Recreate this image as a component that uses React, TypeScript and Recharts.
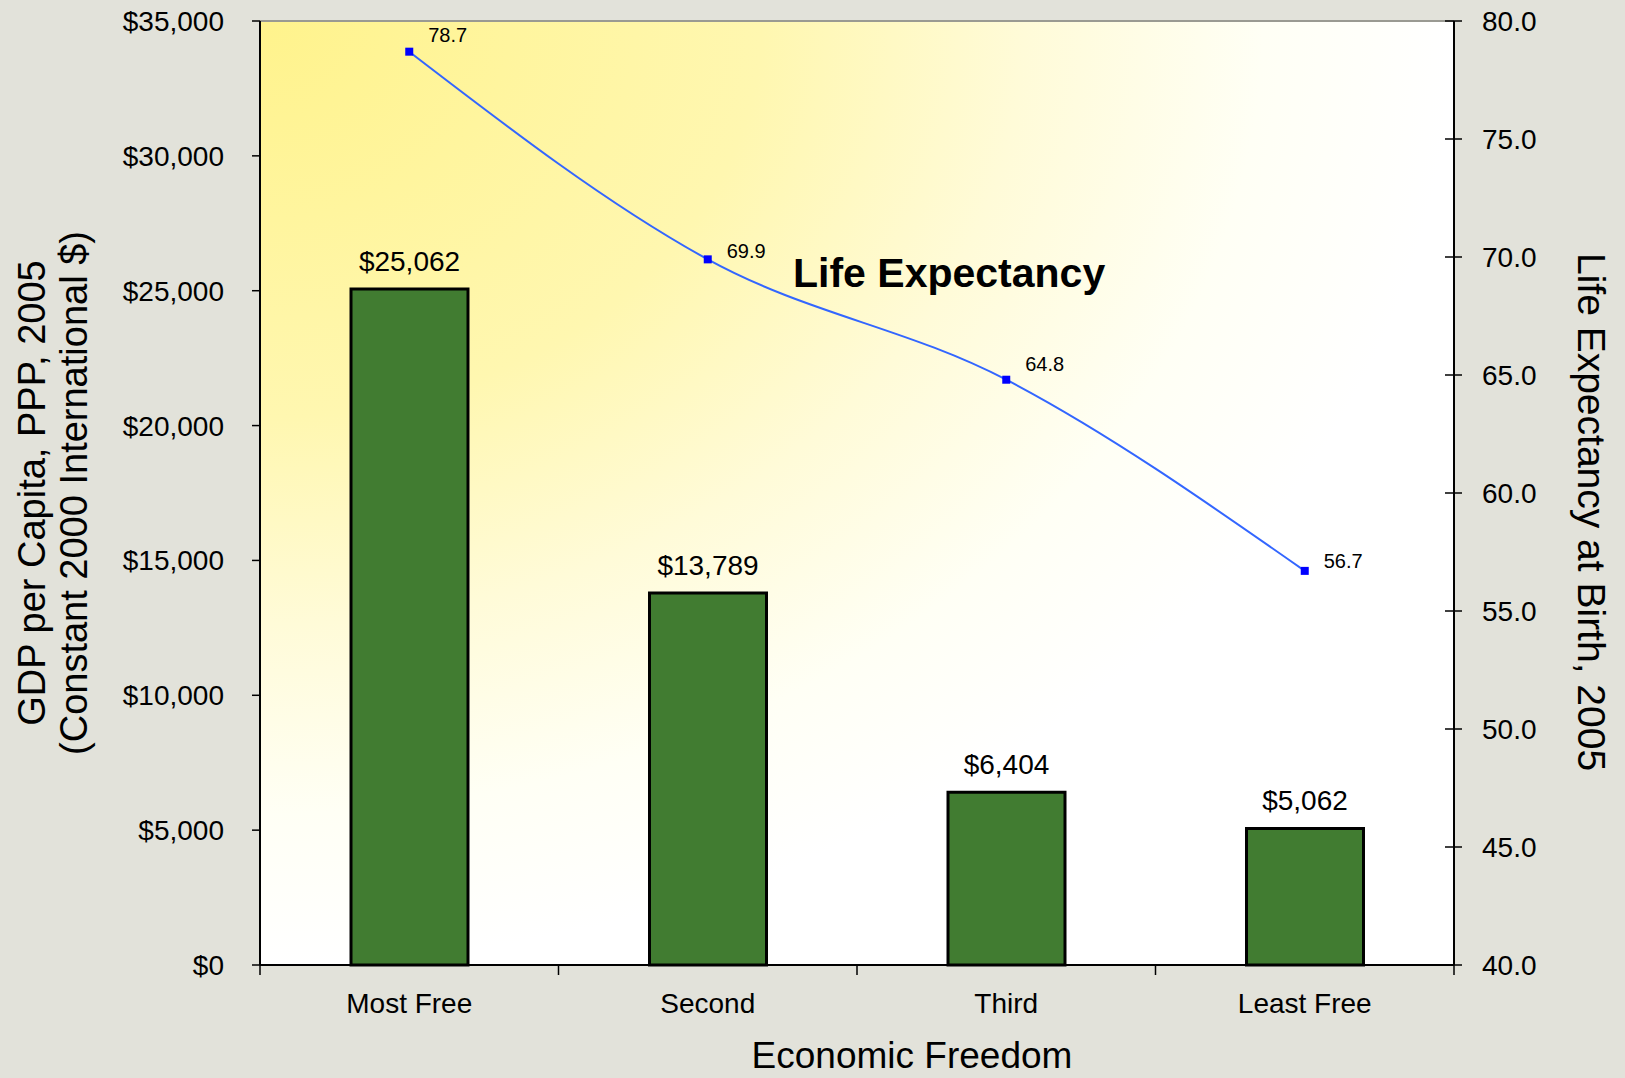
import React from 'react';
import { ComposedChart, Bar, Line, XAxis, YAxis, CartesianGrid, LabelList, ReferenceLine, Label } from 'recharts';

// economic freedom quartiles
const CATEGORIES = ['Most Free', 'Second', 'Third', 'Least Free'];
const GDP_PER_CAPITA = [25062, 13789, 6404, 5062];
const LIFE_EXPECTANCY = [78.7, 69.9, 64.8, 56.7];
const GDP_TICKS = [0, 5000, 10000, 15000, 20000, 25000, 30000, 35000];
const LIFE_TICKS = [40, 45, 50, 55, 60, 65, 70, 75, 80];

// vertical nudge of each point label (Excel placed them a bit unevenly)
const POINT_LABEL_DY = [-10, -1, -9, -3];

const data = CATEGORIES.map((name, i) => ({
    name,
    gdp: GDP_PER_CAPITA[i],
    life: LIFE_EXPECTANCY[i],
}));

const FONT = '"Liberation Sans", Arial, Helvetica, sans-serif';
const W = 1625;
const H = 1078;

const dollars = (v: number) => '$' + v.toLocaleString('en-US');

const CategoryTick = (props: any) => {
    const { x, y, payload, index, width } = props;
    const step = (Number(width) || 1194) / CATEGORIES.length;
    const axisY = y - 28;
    return (
        <g>
            <line x1={x - step / 2} y1={axisY} x2={x - step / 2} y2={axisY + 10} stroke="#000" strokeWidth={1.5} />
            {index === CATEGORIES.length - 1 && (
                <line x1={x + step / 2} y1={axisY} x2={x + step / 2} y2={axisY + 10} stroke="#000" strokeWidth={1.5} />
            )}
            <text x={x} y={y} dy="0.71em" textAnchor="middle" fontSize={28} fill="#000" fontFamily={FONT}>
                {payload.value}
            </text>
        </g>
    );
};

const RightTick = (props: any) => {
    const { x, y, payload } = props;
    const axisX = x - 28;
    return (
        <g>
            <line x1={axisX - 9} y1={y} x2={axisX + 8} y2={y} stroke="#000" strokeWidth={1.5} />
            <text x={x} y={y} dy="0.355em" textAnchor="start" fontSize={28} fill="#000" fontFamily={FONT}>
                {Number(payload.value).toFixed(1)}
            </text>
        </g>
    );
};

const BarValueLabel = (props: any) => {
    const x = Number(props.x), y = Number(props.y), w = Number(props.width);
    return (
        <text x={x + w / 2} y={y - 18} textAnchor="middle" fontSize={28} fill="#000" fontFamily={FONT}>
            {dollars(Number(props.value))}
        </text>
    );
};

const PointLabel = (props: any) => {
    const x = Number(props.x), y = Number(props.y);
    const dy = POINT_LABEL_DY[props.index] ?? -9;
    return (
        <text x={x + 19} y={y + dy} textAnchor="start" fontSize={20} fill="#000" fontFamily={FONT}>
            {Number(props.value).toFixed(1)}
        </text>
    );
};

const SquareDot = (props: any) => {
    const { cx, cy, index } = props;
    return <rect key={`dot-${index}`} x={cx - 4} y={cy - 4} width={8} height={8} fill="#0000FF" />;
};

const LeftAxisTitle = ({ viewBox }: any) => {
    const cy = viewBox.y + viewBox.height / 2;
    return (
        <text transform={`translate(52, ${cy}) rotate(-90)`} textAnchor="middle" fontSize={38} fill="#000" fontFamily={FONT}>
            <tspan x={0} y={-7}>GDP per Capita, PPP, 2005</tspan>
            <tspan x={0} y={35}>(Constant 2000 International $)</tspan>
        </text>
    );
};

const RightAxisTitle = () => (
    <text transform="translate(1592, 512) rotate(90)" x={0} y={14} textAnchor="middle" fontSize={39} fill="#000" fontFamily={FONT}>
        Life Expectancy at Birth, 2005
    </text>
);

const XAxisTitle = () => (
    <text x={912} y={1068} textAnchor="middle" fontSize={37} fill="#000" fontFamily={FONT}>
        Economic Freedom
    </text>
);

export default function App() {
    return (
        <div
            style={{
                position: 'absolute',
                left: 0,
                top: 0,
                width: W,
                height: H,
                overflow: 'hidden',
                background: '#E2E2DA',
                fontFamily: FONT,
            }}
        >
            <ComposedChart
                width={W}
                height={H}
                data={data}
                margin={{ top: 21, right: 71, bottom: 53, left: 110 }}
            >
                <defs>
                    <radialGradient id="plotBg" cx="0" cy="0" r="1" fx="0" fy="0">
                        <stop offset="0%" stopColor="#FFF38C" />
                        <stop offset="42%" stopColor="#FFF7B0" />
                        <stop offset="64%" stopColor="#FFFBD8" />
                        <stop offset="84%" stopColor="#FFFFF5" />
                        <stop offset="100%" stopColor="#FFFFFF" />
                    </radialGradient>
                </defs>
                <CartesianGrid yAxisId="left" horizontal={false} vertical={false} fill="url(#plotBg)" stroke="none" />
                <XAxis
                    dataKey="name"
                    height={60}
                    axisLine={{ stroke: '#000', strokeWidth: 2 }}
                    tickLine={false}
                    tickSize={0}
                    tickMargin={28}
                    tick={CategoryTick}
                    interval={0}
                >
                    <Label content={XAxisTitle} />
                </XAxis>
                <YAxis
                    yAxisId="left"
                    width={150}
                    domain={[0, 35000]}
                    ticks={GDP_TICKS}
                    tickFormatter={dollars}
                    axisLine={{ stroke: '#000', strokeWidth: 2 }}
                    tickLine={{ stroke: '#000', strokeWidth: 1.5 }}
                    tickSize={8}
                    tickMargin={28}
                    tick={{ fill: '#000', fontSize: 28, fontFamily: FONT }}
                >
                    <Label content={LeftAxisTitle} />
                </YAxis>
                <YAxis
                    yAxisId="right"
                    orientation="right"
                    width={100}
                    domain={[40, 80]}
                    ticks={LIFE_TICKS}
                    axisLine={{ stroke: '#000', strokeWidth: 2 }}
                    tickLine={false}
                    tickSize={0}
                    tickMargin={28}
                    tick={RightTick}
                >
                    <Label content={RightAxisTitle} />
                </YAxis>
                <ReferenceLine yAxisId="left" y={35000} stroke="#9A9A92" strokeWidth={2} />
                <Bar
                    yAxisId="left"
                    dataKey="gdp"
                    fill="#417C31"
                    stroke="#000"
                    strokeWidth={3}
                    barSize={117}
                    isAnimationActive={false}
                >
                    <LabelList dataKey="gdp" content={BarValueLabel} />
                </Bar>
                <Line
                    yAxisId="right"
                    dataKey="life"
                    type="monotone"
                    stroke="#3366FF"
                    strokeWidth={2}
                    dot={SquareDot}
                    activeDot={false}
                    isAnimationActive={false}
                >
                    <LabelList dataKey="life" content={PointLabel} />
                </Line>
            </ComposedChart>
            <svg
                width={W}
                height={H}
                style={{ position: 'absolute', left: 0, top: 0, pointerEvents: 'none' }}
            >
                <text x={793} y={287} fontSize={41} fontWeight="bold" fill="#000" fontFamily={FONT}>
                    Life Expectancy
                </text>
            </svg>
        </div>
    );
}
